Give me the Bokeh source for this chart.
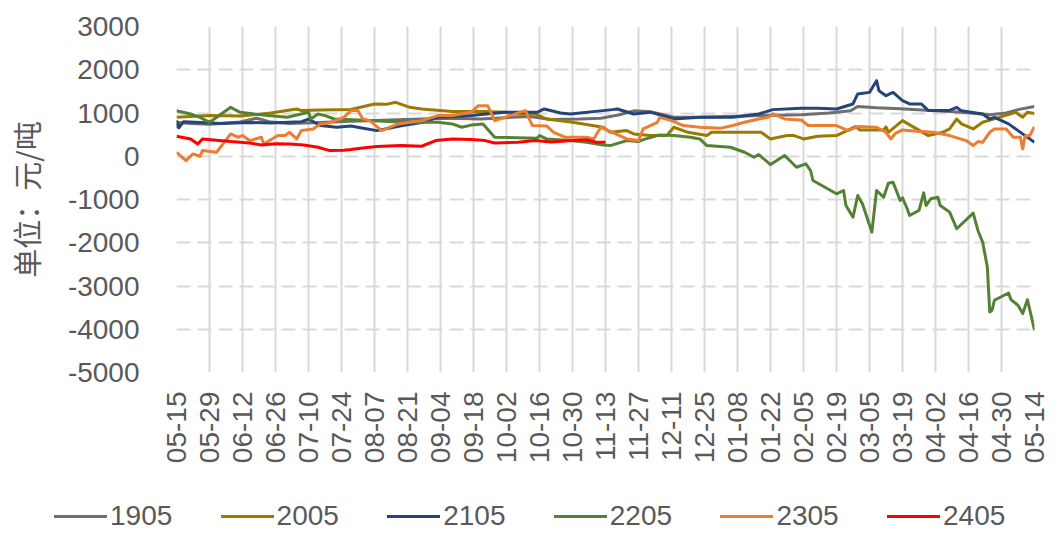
import math
from bokeh.plotting import figure
from bokeh.layouts import column
from bokeh.models import Range1d, FixedTicker, CustomJSTickFormatter, Div
from bokeh.embed import file_html
from bokeh.resources import INLINE

# ---- data (day offsets from 05-15, values in 元/吨) ----
x_labels = ["05-15", "05-29", "06-12", "06-26", "07-10", "07-24", "08-07", "08-21",
            "09-04", "09-18", "10-02", "10-16", "10-30", "11-13", "11-27", "12-11",
            "12-25", "01-08", "01-22", "02-05", "02-19", "03-05", "03-19", "04-02",
            "04-16", "04-30", "05-14"]
y_ticks = [-5000, -4000, -3000, -2000, -1000, 0, 1000, 2000, 3000]
series_names = ["1905", "2005", "2105", "2205", "2305", "2405"]
colors = ["#6F6F6F", "#9C7A00", "#264478", "#548235", "#ED7D31", "#FF0000"]

days_1905 = [0, 1, 6, 14, 27, 34, 40, 48, 61, 74, 87, 104, 116, 129, 142, 150, 159, 171, 180,
             188, 194, 201, 211, 222, 235, 248, 265, 277, 286, 289, 297, 307, 320, 333, 345,
             352, 358, 364]
vals_1905 = [650, 780, 760, 740, 790, 880, 790, 760, 780, 810, 830, 860, 880, 860, 900, 920,
             850, 860, 880, 960, 1050, 1030, 900, 900, 920, 940, 960, 1000, 1050, 1150, 1120,
             1100, 1060, 1020, 960, 1000, 1090, 1150]

days_2005 = [0, 6, 14, 27, 40, 51, 53, 61, 74, 84, 89, 93, 99, 104, 117, 131, 139, 145, 152,
             157, 168, 181, 184, 191, 194, 201, 208, 211, 217, 225, 227, 239, 248, 252, 259,
             262, 266, 272, 280, 288, 290, 297, 300, 301, 302, 308, 314, 319, 325, 328, 331,
             333, 338, 342, 349, 356, 359, 361, 364]
vals_2005 = [900, 920, 940, 930, 1000, 1093, 1055, 1070, 1080, 1209, 1200, 1247, 1131, 1093,
             1032, 1032, 1016, 978, 978, 862, 785, 670, 554, 593, 516, 478, 478, 670, 554, 478,
             554, 554, 554, 400, 478, 478, 400, 462, 478, 685, 609, 609, 609, 680, 554, 824,
             632, 478, 554, 632, 862, 748, 632, 785, 900, 1016, 900, 1016, 990]

days_2105 = [0, 1, 3, 10, 19, 31, 40, 53, 56, 61, 68, 74, 78, 85, 96, 104, 111, 125, 139, 153,
             156, 163, 167, 181, 185, 187, 194, 201, 211, 222, 236, 247, 253, 265, 272, 280,
             287, 289, 294, 297, 298, 301, 304, 308, 311, 316, 319, 328, 331, 333, 342, 345,
             347, 353, 357, 364]
vals_2105 = [830, 660, 800, 780, 760, 780, 770, 800, 860, 710, 670, 700, 660, 593, 710, 780,
             900, 940, 1016, 1016, 1093, 1000, 978, 1055, 1078, 1093, 978, 1020, 862, 900, 900,
             978, 1078, 1108, 1108, 1093, 1209, 1440, 1477, 1747, 1516, 1401, 1477, 1285, 1209,
             1209, 1055, 1060, 1131, 1050, 978, 862, 900, 748, 593, 323]

days_2205 = [0, 6, 10, 14, 16, 19, 23, 27, 39, 47, 56, 57, 60, 63, 67, 82, 96, 111, 117, 121,
             125, 130, 135, 153, 154, 157, 167, 174, 181, 184, 191, 196, 198, 205, 211, 218,
             222, 225, 235, 241, 245, 247, 252, 255, 258, 263, 267, 269, 270, 280, 283, 284,
             287, 289, 291, 295, 297, 300, 302, 304, 307, 308, 310, 311, 315, 317, 318, 320,
             323, 324, 328, 331, 338, 340, 342, 344, 345, 346, 347, 353, 354, 357, 359, 361, 364]
vals_2205 = [1050, 978, 900, 785, 862, 978, 1131, 1016, 940, 900, 1016, 862, 978, 940, 862, 824,
             785, 785, 748, 670, 720, 748, 439, 416, 478, 400, 362, 323, 262, 247, 362, 340, 385,
             493, 478, 440, 400, 247, 208, 92, -23, 39, -192, -84, 16, -254, -175, -330, -561,
             -868, -792, -1138, -1408, -907, -1099, -1754, -792, -946, -623, -600, -1023, -960,
             -1214, -1369, -1253, -846, -1138, -984, -946, -1138, -1292, -1677, -1315, -1716,
             -1985, -2562, -3600, -3560, -3330, -3162, -3315, -3446, -3638, -3315, -4023]

days_2305 = [0, 4, 7, 10, 11, 17, 23, 26, 28, 31, 36, 37, 43, 46, 48, 51, 53, 58, 61, 65, 71,
             74, 77, 79, 82, 87, 94, 104, 111, 117, 125, 128, 132, 135, 148, 151, 157, 160, 165,
             174, 177, 180, 185, 191, 196, 198, 204, 205, 210, 215, 222, 231, 236, 241, 247,
             251, 253, 258, 265, 268, 280, 285, 289, 297, 301, 303, 305, 308, 314, 321, 328,
             335, 338, 340, 342, 345, 347, 352, 355, 358, 359, 360, 362, 364]
vals_2305 = [92, -100, 54, 0, 131, 92, 516, 440, 478, 362, 439, 285, 478, 480, 554, 400, 593,
             632, 748, 770, 900, 1055, 1055, 862, 824, 593, 748, 824, 940, 940, 1016, 1170, 1170,
             824, 1055, 710, 700, 554, 439, 439, 400, 670, 554, 400, 362, 632, 785, 900, 824, 710,
             670, 650, 710, 785, 862, 900, 978, 862, 840, 710, 710, 593, 685, 670, 554, 400, 530,
             609, 580, 554, 478, 362, 247, 340, 323, 554, 632, 632, 439, 439, 170, 462, 480, 685]

days_2405 = [0, 6, 9, 11, 17, 23, 31, 36, 42, 48, 54, 60, 65, 71, 74, 79, 85, 95, 104, 110, 117,
             125, 131, 135, 145, 152, 159, 168, 174, 178, 182]
vals_2405 = [462, 400, 285, 400, 370, 339, 308, 262, 290, 285, 262, 208, 131, 140, 154, 190, 224,
             250, 231, 362, 400, 390, 362, 308, 323, 362, 330, 362, 380, 323, 323]

all_days = [days_1905, days_2005, days_2105, days_2205, days_2305, days_2405]
all_vals = [vals_1905, vals_2005, vals_2105, vals_2205, vals_2305, vals_2405]

TEXT = "#595959"
GRID = "#D9D9D9"
NUM_FONT = "Liberation Sans"
W = 1064
MAIN_H = 490
LEG_H = 52

# ---------------- main chart ----------------
p = figure(width=W, height=MAIN_H, output_backend="svg", toolbar_location=None,
           x_range=Range1d(0, 364), y_range=Range1d(-5000, 3000),
           min_border_left=176, min_border_right=30, min_border_top=26,
           min_border_bottom=MAIN_H - 372)
p.outline_line_color = None
p.background_fill_color = "white"
p.border_fill_color = "white"

for d, v, c in zip(all_days, all_vals, colors):
    p.line(d, v, line_color=c, line_width=3, line_join="round")

p.xaxis.ticker = FixedTicker(ticks=[14 * i for i in range(len(x_labels))])
p.xaxis.formatter = CustomJSTickFormatter(args=dict(labels=x_labels),
                                          code="return labels[Math.round(tick / 14)];")
p.xaxis.major_label_orientation = math.pi / 2
p.xaxis.major_label_text_font = NUM_FONT
p.xaxis.major_label_text_font_size = "28px"
p.xaxis.major_label_text_color = TEXT
p.xaxis.major_label_standoff = 13
p.xaxis.axis_line_color = None
p.xaxis.major_tick_line_color = None
p.xaxis.minor_tick_line_color = None

p.yaxis.ticker = FixedTicker(ticks=y_ticks)
p.yaxis.formatter = CustomJSTickFormatter(code="return tick.toFixed(0);")
p.yaxis.major_label_text_font = NUM_FONT
p.yaxis.major_label_text_font_size = "28px"
p.yaxis.major_label_text_color = TEXT
p.yaxis.major_label_standoff = 31
p.yaxis.axis_line_color = None
p.yaxis.major_tick_line_color = None
p.yaxis.minor_tick_line_color = None
p.yaxis.axis_label = "单位：元/吨"
p.yaxis.axis_label_text_font = "Noto Sans CJK SC"
p.yaxis.axis_label_text_font_size = "29px"
p.yaxis.axis_label_text_font_style = "normal"
p.yaxis.axis_label_text_color = TEXT
p.yaxis.axis_label_standoff = 18

p.xgrid.grid_line_color = GRID
p.xgrid.grid_line_width = 2
p.ygrid.grid_line_color = GRID
p.ygrid.grid_line_width = 2
p.ygrid.grid_line_dash = "14 7"

# ---------------- legend strip (HTML, real text) ----------------
items_html = []
for i, (name, c) in enumerate(zip(series_names, colors)):
    left = 54 + 166.6 * i
    items_html.append(
        f'<div style="position:absolute;left:{left:.1f}px;top:10px;height:32px;'
        f'display:flex;align-items:center;white-space:nowrap;">'
        f'<span style="display:inline-block;width:53px;height:3px;background:{c};'
        f'margin-right:3px;"></span>'
        f'<span style="font-family:\'{NUM_FONT}\';font-size:28px;color:{TEXT};'
        f'line-height:32px;">{name}</span></div>'
    )
legend_div = Div(
    text=f'<div style="position:relative;width:{W}px;height:{LEG_H}px;">'
         + "".join(items_html) + "</div>",
    width=W, height=LEG_H, margin=0,
)

layout = column(p, legend_div, spacing=0)
open("out.html", "w").write(file_html(layout, INLINE))
